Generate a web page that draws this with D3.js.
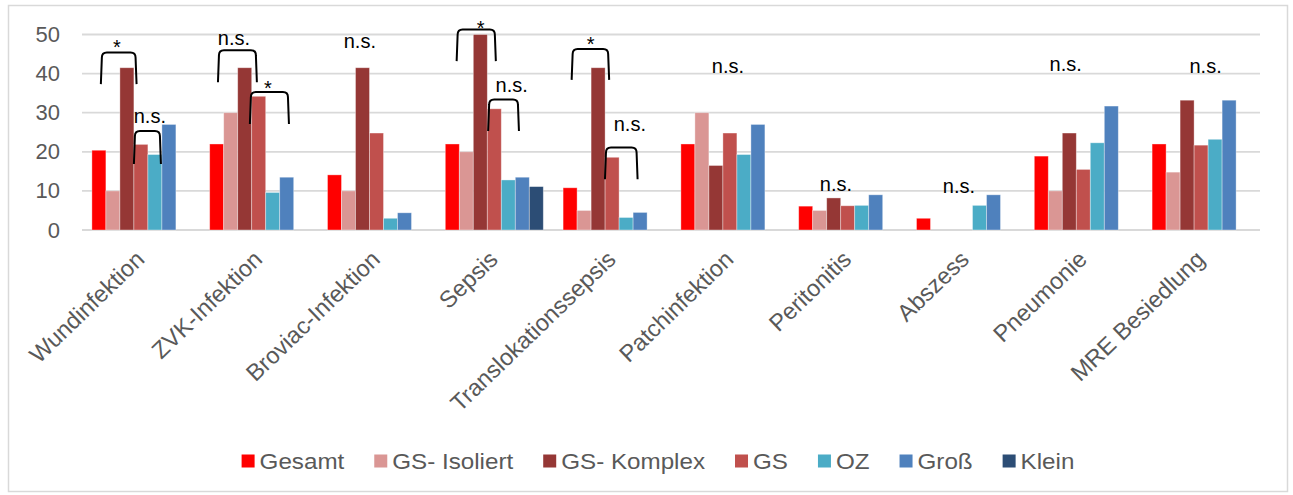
<!DOCTYPE html>
<html>
<head>
<meta charset="utf-8">
<script src="https://cdn.jsdelivr.net/npm/d3@7"></script>
<style>
  html, body { margin: 0; padding: 0; background: #fff; }
  svg { display: block; font-family: "Liberation Sans", Arial, sans-serif; }
</style>
</head>
<body>
<svg id="chart" width="1293" height="495"></svg>
<script>
// Infection categories (x axis)
const categories = ["Wundinfektion", "ZVK-Infektion", "Broviac-Infektion", "Sepsis",
  "Translokationssepsis", "Patchinfektion", "Peritonitis", "Abszess", "Pneumonie", "MRE Besiedlung"];

// Series names (legend order = bar order)
const seriesNames = ["Gesamt", "GS- Isoliert", "GS- Komplex", "GS", "OZ", "Groß", "Klein"];

// Rates in % per series, one value per category
const gesamt     = [20.4, 22.0, 14.1, 22.0, 10.8, 22.0, 6.1, 3.0, 18.9, 22.0];
const gsIsoliert = [10.0, 30.0, 10.0, 20.0, 5.0, 30.0, 5.0, 0, 10.0, 14.8];
const gsKomplex  = [41.5, 41.5, 41.5, 50.0, 41.5, 16.5, 8.2, 0, 24.8, 33.2];
const gs         = [21.9, 34.2, 24.8, 31.0, 18.6, 24.8, 6.2, 0, 15.5, 21.7];
const oz         = [19.3, 9.6, 3.0, 12.8, 3.2, 19.3, 6.3, 6.3, 22.3, 23.2];
const gross      = [27.0, 13.5, 4.4, 13.5, 4.5, 27.0, 9.0, 9.0, 31.7, 33.2];
const klein      = [0, 0, 0, 11.1, 0, 0, 0, 0, 0, 0];

const seriesValues = [gesamt, gsIsoliert, gsKomplex, gs, oz, gross, klein];
const seriesColors = ["#FF0000", "#DA9694", "#953735", "#C0504D", "#4BACC6", "#4F81BD", "#2C4D75"];

// Y axis ticks
const yTicks = [0, 10, 20, 30, 40, 50];

// Significance brackets: category, span in bar slots, top and foot value
const brackets = [
  { cat: "Wundinfektion",        from: 0.64, to: 3.19, top: 45.4, foot: 37.3 },
  { cat: "Wundinfektion",        from: 3.00, to: 4.93, top: 25.3, foot: 16.9 },
  { cat: "ZVK-Infektion",        from: 0.59, to: 3.37, top: 46.0, foot: 37.8 },
  { cat: "ZVK-Infektion",        from: 2.87, to: 5.66, top: 35.3, foot: 27.1 },
  { cat: "Sepsis",               from: 0.81, to: 3.61, top: 51.3, foot: 43.2 },
  { cat: "Sepsis",               from: 3.06, to: 5.26, top: 33.4, foot: 25.3 },
  { cat: "Translokationssepsis", from: 0.61, to: 3.29, top: 46.3, foot: 38.4 },
  { cat: "Translokationssepsis", from: 2.99, to: 5.32, top: 21.1, foot: 13.0 }
];

// Significance labels: category, slot position, baseline value
const sigLabels = [
  { cat: "Wundinfektion",        pos: 1.79, v: 45.1, text: "*" },
  { cat: "Wundinfektion",        pos: 4.14, v: 27.3, text: "n.s." },
  { cat: "ZVK-Infektion",        pos: 1.73, v: 47.3, text: "n.s." },
  { cat: "ZVK-Infektion",        pos: 4.16, v: 34.4, text: "*" },
  { cat: "Broviac-Infektion",    pos: 2.31, v: 46.6, text: "n.s." },
  { cat: "Sepsis",               pos: 2.52, v: 49.8, text: "*" },
  { cat: "Sepsis",               pos: 4.74, v: 35.2, text: "n.s." },
  { cat: "Translokationssepsis", pos: 1.96, v: 45.9, text: "*" },
  { cat: "Translokationssepsis", pos: 4.77, v: 25.4, text: "n.s." },
  { cat: "Patchinfektion",       pos: 3.36, v: 40.2, text: "n.s." },
  { cat: "Peritonitis",          pos: 2.66, v: 10.1, text: "n.s." },
  { cat: "Abszess",              pos: 3.03, v: 9.5,  text: "n.s." },
  { cat: "Pneumonie",            pos: 2.24, v: 40.7, text: "n.s." },
  { cat: "MRE Besiedlung",       pos: 3.82, v: 40.2, text: "n.s." }
];

const svg = d3.select("#chart");
const plot = { left: 82, right: 1260, top: 34.5, bottom: 230 };
const gridColor = "#d9d9d9";
const textColor = "#595959";

// outer frame
svg.append("rect")
  .attr("x", 8.5).attr("y", 5.5)
  .attr("width", 1279).attr("height", 486)
  .attr("fill", "#fff").attr("stroke", gridColor).attr("stroke-width", 1.5);

const x0 = d3.scaleBand().domain(categories)
  .range([plot.left, plot.right]).paddingInner(0.168).paddingOuter(0.084);
const x1 = d3.scaleBand().domain(d3.range(seriesNames.length))
  .range([0, x0.bandwidth()]).padding(0);
const y = d3.scaleLinear().domain([0, 50]).range([plot.bottom, plot.top]);

// gridlines
svg.append("g").selectAll("line").data(yTicks).join("line")
  .attr("x1", plot.left).attr("x2", plot.right)
  .attr("y1", d => y(d)).attr("y2", d => y(d))
  .attr("stroke", gridColor).attr("stroke-width", 1.8);

// y axis labels
const yAxis = d3.axisLeft(y).tickValues(yTicks).tickSize(0).tickPadding(0);
const yg = svg.append("g").attr("transform", "translate(60,0)").call(yAxis);
yg.select(".domain").remove();
yg.selectAll("text").attr("font-size", 22).attr("fill", textColor)
  .attr("font-family", "Liberation Sans, Arial, sans-serif");

// bars
const groups = svg.append("g").selectAll("g").data(categories).join("g")
  .attr("transform", d => `translate(${x0(d)},0)`);
groups.selectAll("rect")
  .data((c, ci) => seriesValues.map((vals, si) => ({ si, v: vals[ci] })).filter(d => d.v > 0))
  .join("rect")
  .attr("x", d => x1(d.si))
  .attr("width", x1.bandwidth())
  .attr("y", d => y(d.v))
  .attr("height", d => y(0) - y(d.v))
  .attr("fill", d => seriesColors[d.si])
  .attr("stroke", "rgba(255,255,255,0.45)")
  .attr("stroke-width", 0.8);

// category labels
const xAxis = d3.axisBottom(x0).tickSize(0).tickPadding(0);
const xg = svg.append("g").attr("transform", `translate(0,${plot.bottom})`).call(xAxis);
xg.select(".domain").remove();
xg.selectAll("text")
  .attr("font-size", 23.5).attr("fill", textColor)
  .attr("font-family", "Liberation Sans, Arial, sans-serif")
  .attr("text-anchor", "end")
  .attr("dy", null).attr("y", null)
  .attr("transform", "translate(5,31) rotate(-44)");

// significance brackets
const slot = x1.step();
const r = 5;
svg.append("g").selectAll("path").data(brackets).join("path")
  .attr("d", b => {
    const xl = x0(b.cat) + b.from * slot, xr = x0(b.cat) + b.to * slot;
    const yt = y(b.top), yf = y(b.foot);
    return `M${xl},${yf} L${xl + 1},${yt + r} Q${xl + 1},${yt} ${xl + 1 + r},${yt}` +
           ` L${xr - 1 - r},${yt} Q${xr - 1},${yt} ${xr - 1},${yt + r} L${xr},${yf}`;
  })
  .attr("fill", "none").attr("stroke", "#000").attr("stroke-width", 2);

svg.append("g").selectAll("text").data(sigLabels).join("text")
  .attr("x", d => x0(d.cat) + d.pos * slot)
  .attr("y", d => y(d.v))
  .attr("text-anchor", "middle")
  .attr("font-size", 20).attr("fill", "#000")
  .text(d => d.text);

// legend
const legend = svg.append("g");
const sx = 1.1, sw = 13, gapText = 5, gapItem = 30, legendCenter = 658, legendY = 461;
const items = legend.selectAll("g").data(seriesNames).join("g");
items.append("rect").attr("width", sw).attr("height", sw).attr("y", -sw / 2)
  .attr("fill", (d, i) => seriesColors[i]);
items.append("text")
  .attr("transform", `translate(${sw + gapText},0) scale(${sx},1)`)
  .attr("dy", "0.35em")
  .attr("font-size", 22).attr("fill", textColor)
  .text(d => d);
let cursor = 0;
const offsets = [];
items.each(function () {
  const tw = d3.select(this).select("text").node().getComputedTextLength() * sx;
  offsets.push(cursor);
  cursor += sw + gapText + tw + gapItem;
});
const totalW = cursor - gapItem;
const startX = legendCenter - totalW / 2;
items.attr("transform", (d, i) => `translate(${startX + offsets[i]},${legendY})`);
</script>
</body>
</html>
